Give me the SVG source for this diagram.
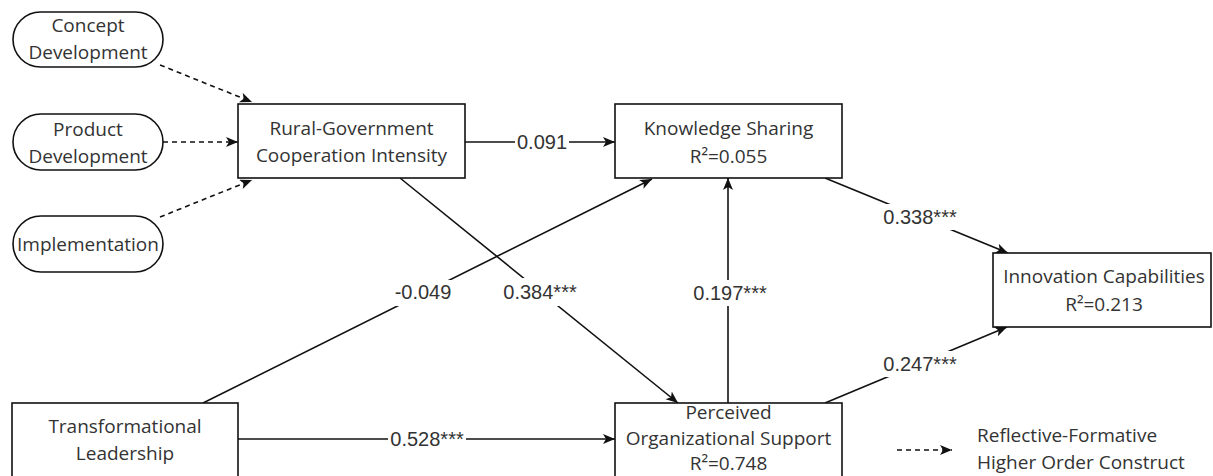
<svg xmlns="http://www.w3.org/2000/svg" width="1213" height="476" viewBox="0 0 1213 476">
<style>
.box{fill:#fff;stroke:#111;stroke-width:1.6}
.t{font-family:"Open Sans","Noto Sans",sans-serif;font-size:19px;fill:#333;text-anchor:middle}
.lt{font-family:"Open Sans","Noto Sans",sans-serif;font-size:19px;fill:#333}
.e{fill:none;stroke:#111;stroke-width:1.6;marker-end:url(#arr)}
.d{fill:none;stroke:#111;stroke-width:1.6;stroke-dasharray:5 4;marker-end:url(#arr)}
.lb{font-family:"Liberation Sans",Arial,sans-serif;font-size:20px;fill:#333;text-anchor:middle}
.bg{fill:#fff}
</style>
<defs>
<marker id="arr" markerUnits="userSpaceOnUse" markerWidth="14" markerHeight="12" refX="12" refY="5" orient="auto">
<path d="M0,0 L12,5 L0,10 L3,5 z" fill="#111"/>
</marker>
</defs>
<rect width="1213" height="476" fill="#fff"/>
<g id="connectors">
<path class="d" d="M160,65 L252,102"/>
<path class="d" d="M163,142 L238,142"/>
<path class="d" d="M160,217 L252,180"/>
<path class="e" d="M465,142 L615,142"/>
<path class="e" d="M203,403 L652,179"/>
<path class="e" d="M400,178 L678,403"/>
<path class="e" d="M728,403 L728,178"/>
<path class="e" d="M825,178 L1008,253"/>
<path class="e" d="M825,403 L1007,327"/>
<path class="e" d="M238,439 L615,439"/>
<rect class="bg" x="515" y="131" width="54" height="22"/>
<text class="lb" x="542" y="149">0.091</text>
<rect class="bg" x="390" y="280" width="66" height="26"/>
<text class="lb" x="423" y="299">-0.049</text>
<rect class="bg" x="500" y="278" width="80" height="28"/>
<text class="lb" x="540" y="299">0.384***</text>
<rect class="bg" x="690" y="280" width="80" height="26"/>
<text class="lb" x="730" y="300">0.197***</text>
<rect class="bg" x="880" y="204" width="80" height="26"/>
<text class="lb" x="920" y="224">0.338***</text>
<rect class="bg" x="880" y="351" width="80" height="26"/>
<text class="lb" x="920" y="371">0.247***</text>
<rect class="bg" x="388" y="428" width="78" height="22"/>
<text class="lb" x="427" y="446">0.528***</text>
</g>
<g id="concept-development">
<rect class="box" x="13" y="12" width="150" height="55" rx="27.5"/>
<text class="t" x="88" y="32">Concept</text>
<text class="t" x="88" y="59">Development</text>
</g>
<g id="product-development">
<rect class="box" x="13" y="114" width="150" height="56" rx="28"/>
<text class="t" x="88" y="136">Product</text>
<text class="t" x="88" y="163">Development</text>
</g>
<g id="implementation">
<rect class="box" x="13" y="216" width="150" height="56" rx="28"/>
<text class="t" x="88" y="251">Implementation</text>
</g>
<g id="rural-government">
<rect class="box" x="238" y="104" width="227" height="74"/>
<text class="t" x="351.5" y="135">Rural-Government</text>
<text class="t" x="351.5" y="162">Cooperation Intensity</text>
</g>
<g id="knowledge-sharing">
<rect class="box" x="615" y="104" width="227" height="74"/>
<text class="t" x="728.5" y="135">Knowledge Sharing</text>
<text class="t" x="728.5" y="163">R²=0.055</text>
</g>
<g id="innovation-capabilities">
<rect class="box" x="993" y="253" width="218" height="74"/>
<text class="t" x="1104" y="283">Innovation Capabilities</text>
<text class="t" x="1104" y="311">R²=0.213</text>
</g>
<g id="transformational-leadership">
<rect class="box" x="12" y="403" width="226" height="80"/>
<text class="t" x="125" y="433">Transformational</text>
<text class="t" x="125" y="460">Leadership</text>
</g>
<g id="perceived-organizational-support">
<rect class="box" x="615" y="403" width="227" height="80"/>
<text class="t" x="728.5" y="419">Perceived</text>
<text class="t" x="728.5" y="445">Organizational Support</text>
<text class="t" x="728.5" y="470">R²=0.748</text>
</g>
<g id="legend">
<path class="d" d="M897,450 L952,450"/>
<text class="lt" x="977" y="442">Reflective-Formative</text>
<text class="lt" x="977" y="469">Higher Order Construct</text>
</g>
</svg>
